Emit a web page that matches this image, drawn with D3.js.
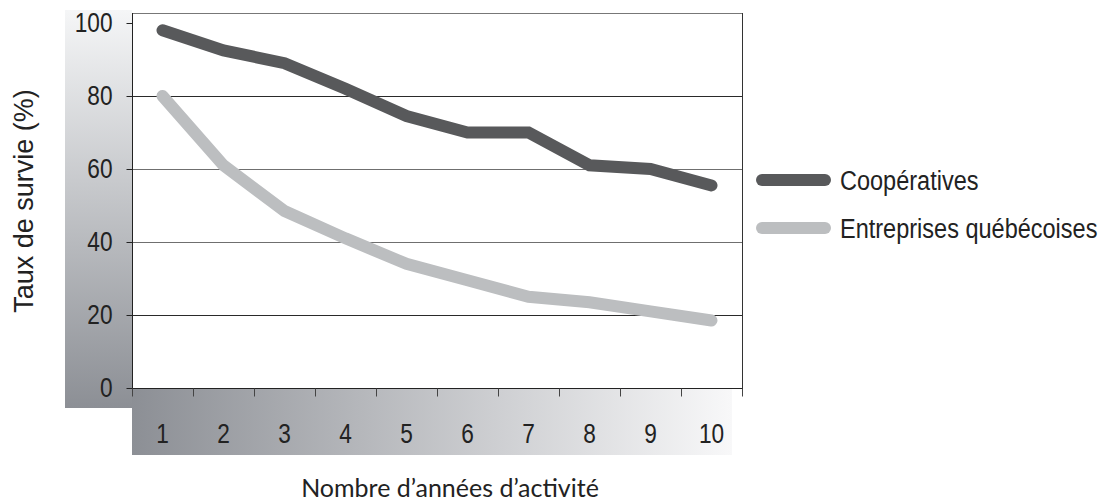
<!DOCTYPE html>
<html><head><meta charset="utf-8">
<script src="https://cdn.jsdelivr.net/npm/d3@7"></script>
<style>body{margin:0;background:#fff}svg{display:block}</style>
</head><body>
<svg id="c" width="1117" height="501"></svg>
<script>
const years = [1,2,3,4,5,6,7,8,9,10];
const cooperatives = [98, 92.5, 89, 82, 74.5, 70, 70, 61, 60, 55.5];
const entreprises = [80, 61, 48.5, 41, 34, 29.5, 25, 23.5, 21, 18.5];
const seriesNames = ["Coopératives", "Entreprises québécoises"];
const seriesColors = ["#58595b", "#bcbec0"];
const yTicks = [0,20,40,60,80,100];
const yTitle = "Taux de survie (%)";
const xTitle = "Nombre d’années d’activité";

const L=132,R=742,T=13,B=388;
const SX=0.84; // condensed look
const sans = "'Liberation Sans',Arial,sans-serif";
const svg=d3.select("#c");
const defs=svg.append("defs");
const gv=defs.append("linearGradient").attr("id","gv").attr("x1",0).attr("y1",0).attr("x2",0).attr("y2",1);
gv.append("stop").attr("offset",0).attr("stop-color","#f5f6f7");
gv.append("stop").attr("offset",1).attr("stop-color","#8c8f95");
const gh=defs.append("linearGradient").attr("id","gh").attr("x1",0).attr("y1",0).attr("x2",1).attr("y2",0);
gh.append("stop").attr("offset",0).attr("stop-color","#8c8f95");
gh.append("stop").attr("offset",1).attr("stop-color","#f8f8f9");

svg.append("rect").attr("x",65).attr("y",10).attr("width",L-65).attr("height",408-10).attr("fill","url(#gv)");
svg.append("rect").attr("x",L).attr("y",B).attr("width",732-L).attr("height",455-B).attr("fill","url(#gh)");
svg.append("rect").attr("x",L).attr("y",T).attr("width",R-L).attr("height",B-T).attr("fill","#fff");

const x=d3.scaleBand().domain(years).range([L,R]);
const y=d3.scaleLinear().domain([0,100]).range([B,23]);

// gridlines
svg.append("g").selectAll("line").data(yTicks.filter(d=>d>0&&d<100)).join("line")
  .attr("x1",L).attr("x2",R).attr("y1",d=>Math.round(y(d))+0.5).attr("y2",d=>Math.round(y(d))+0.5)
  .attr("stroke",d=>(d===40||d===60)?"#6f6f6f":"#2a2a2a").attr("stroke-width",1);
// frame
svg.append("line").attr("x1",L).attr("x2",R+1).attr("y1",T+0.5).attr("y2",T+0.5).attr("stroke","#777");
svg.append("line").attr("x1",R+0.5).attr("x2",R+0.5).attr("y1",T).attr("y2",B).attr("stroke","#333");

// y axis
const ya=svg.append("g").attr("transform",`translate(${L+0.5},0)`)
  .call(d3.axisLeft(y).tickValues(yTicks).tickSize(6).tickPadding(14));
ya.select(".domain").attr("stroke","#222").attr("d",`M0,${T}V${B}`);
ya.selectAll(".tick line").attr("stroke","#222");
ya.selectAll("text").attr("font-family",sans).attr("font-size",27).attr("fill","#222")
  .attr("x",-20/SX).attr("transform",`scale(${SX},1)`);

// x axis: ticks at band boundaries
const xa=svg.append("g").attr("transform",`translate(0,${B+0.5})`);
xa.append("line").attr("x1",L).attr("x2",R+1).attr("stroke","#222");
xa.selectAll("line.t").data(years.concat([11])).join("line").attr("class","t")
  .attr("x1",d=>(d<=10?x(d):R)+0.5).attr("x2",d=>(d<=10?x(d):R)+0.5)
  .attr("y1",0).attr("y2",8).attr("stroke","#444");
svg.append("g").selectAll("text").data(years).join("text")
  .attr("transform",d=>`translate(${x(d)+x.bandwidth()/2},443) scale(${SX},1)`)
  .attr("text-anchor","middle")
  .attr("font-family",sans).attr("font-size",27).attr("fill","#222").text(d=>d);

// lines
const line=d3.line().x((d,i)=>x(years[i])+x.bandwidth()/2).y(d=>y(d));
[cooperatives,entreprises].forEach((s,i)=>{
  svg.append("path").datum(s).attr("d",line).attr("fill","none")
   .attr("stroke",seriesColors[i]).attr("stroke-width",12)
   .attr("stroke-linecap","round").attr("stroke-linejoin","miter");
});

// legend
const legY=[180,228];
seriesNames.forEach((n,i)=>{
  svg.append("line").attr("x1",762).attr("x2",825).attr("y1",legY[i]).attr("y2",legY[i])
    .attr("stroke",seriesColors[i]).attr("stroke-width",12).attr("stroke-linecap","round");
  svg.append("text").attr("transform",`translate(840,${legY[i]+10}) scale(${SX},1)`)
    .attr("font-family",sans).attr("font-size",28).attr("fill","#222").text(n);
});

// titles
svg.append("text").attr("transform","translate(33,201) rotate(-90)").attr("text-anchor","middle")
  .attr("font-family",sans).attr("font-size",27).attr("fill","#222").text(yTitle);
svg.append("text").attr("x",450).attr("y",497).attr("text-anchor","middle")
  .attr("font-family","Lato,'Open Sans',sans-serif").attr("font-size",25).attr("fill","#222").text(xTitle);
</script>
</body></html>
